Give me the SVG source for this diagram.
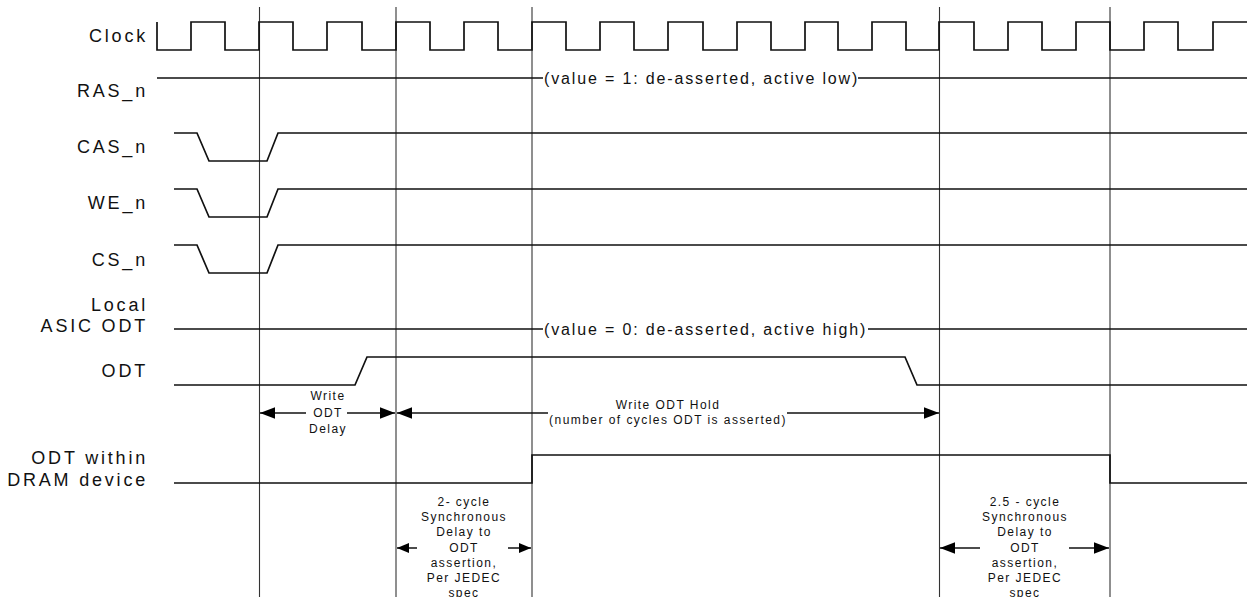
<svg xmlns="http://www.w3.org/2000/svg" width="1247" height="597" viewBox="0 0 1247 597">
<style>
.lbl{font-family:"Liberation Sans",Arial,sans-serif;font-size:18px;letter-spacing:2.8px;fill:#111;text-anchor:end}
.val{font-family:"Liberation Sans",Arial,sans-serif;font-size:16px;letter-spacing:1.85px;fill:#111}
.ann{font-family:"Liberation Sans",Arial,sans-serif;font-size:12px;letter-spacing:1.45px;fill:#111;text-anchor:middle}
.sig{fill:none;stroke:#111;stroke-width:1.7;stroke-linejoin:miter}
.grid{stroke:#333;stroke-width:1.1}
.dim{stroke:#111;stroke-width:1.5;fill:none}
.dimA{marker-end:url(#ah)}
.dimB{marker-end:url(#ahs)}
</style>
<defs>
<marker id="ah" markerUnits="userSpaceOnUse" markerWidth="16" markerHeight="12" refX="15" refY="5.75" orient="auto"><path d="M0,0 L15,5.75 L0,11.5 z" fill="#000"/></marker>
<marker id="ahs" markerUnits="userSpaceOnUse" markerWidth="13" markerHeight="11" refX="12" refY="5" orient="auto"><path d="M0,0 L12,5 L0,10 z" fill="#000"/></marker>
</defs>

<g id="gridlines">
<line class="grid" x1="259.5" y1="7" x2="259.5" y2="597"/>
<line class="grid" x1="396" y1="7" x2="396" y2="597"/>
<line class="grid" x1="532" y1="7" x2="532" y2="597"/>
<line class="grid" x1="939.5" y1="7" x2="939.5" y2="597"/>
<line class="grid" x1="1110" y1="7" x2="1110" y2="597"/>
</g>

<g id="clock">
<text class="lbl" x="148" y="42">Clock</text>
<path class="sig" d="M157,22 V50 H191 V22 H225 V50 H259 V22 H293 V50 H327 V22 H362 V50 H396 V22 H430 V50 H464 V22 H498 V50 H532 V22 H566 V50 H600 V22 H634 V50 H668 V22 H703 V50 H737 V22 H771 V50 H805 V22 H838 V50 H872 V22 H906 V50 H939 V22 H974 V50 H1008 V22 H1042 V50 H1076 V22 H1110 V50 H1144 V22 H1178 V50 H1213 V22 H1247"/>
</g>

<g id="ras_n">
<text class="lbl" x="148" y="97">RAS_n</text>
<path class="sig" d="M157,78 H543 M858,78 H1247"/>
<text class="val" x="544" y="83.5">(value = 1: de-asserted, active low)</text>
</g>

<g id="cas_n">
<text class="lbl" x="148" y="153">CAS_n</text>
<path class="sig" d="M174,133 H197 L209,161 H267 L278,133 H1247"/>
</g>

<g id="we_n">
<text class="lbl" x="148" y="209">WE_n</text>
<path class="sig" d="M174,189 H197 L209,217 H267 L278,189 H1247"/>
</g>

<g id="cs_n">
<text class="lbl" x="148" y="266">CS_n</text>
<path class="sig" d="M174,245 H197 L209,273 H267 L278,245 H1247"/>
</g>

<g id="local_asic_odt">
<text class="lbl" x="148" y="311">Local</text>
<text class="lbl" x="148" y="332">ASIC ODT</text>
<path class="sig" d="M174,329 H543 M868,329 H1247"/>
<text class="val" x="544" y="334.5">(value = 0: de-asserted, active high)</text>
</g>

<g id="odt">
<text class="lbl" x="148" y="377">ODT</text>
<path class="sig" d="M174,385 H355 L367,357 H905 L917,385 H1247"/>
</g>

<g id="odt_dram">
<text class="lbl" x="148" y="464">ODT within</text>
<text class="lbl" x="148" y="486">DRAM device</text>
<path class="sig" d="M174,483 H532 V455 H1110 V483 H1247"/>
</g>

<g id="connectors">
<line class="dim dimA" x1="306" y1="413" x2="260" y2="413"/>
<line class="dim dimA" x1="347" y1="413" x2="395" y2="413"/>
<line class="dim dimA" x1="548" y1="413" x2="397" y2="413"/>
<line class="dim dimA" x1="787" y1="413" x2="939" y2="413"/>
<line class="dim dimB" x1="417" y1="548" x2="397" y2="548"/>
<line class="dim dimB" x1="508" y1="548" x2="531" y2="548"/>
<line class="dim dimA" x1="980" y1="548" x2="940" y2="548"/>
<line class="dim dimA" x1="1069" y1="548" x2="1109" y2="548"/>
</g>

<g id="write_odt_delay">
<text class="ann" x="328" y="400">Write</text>
<text class="ann" x="328" y="417">ODT</text>
<text class="ann" x="328" y="433">Delay</text>
</g>

<g id="write_odt_hold">
<text class="ann" x="668" y="409">Write ODT Hold</text>
<text class="ann" x="668" y="424">(number of cycles ODT is asserted)</text>
</g>

<g id="two_cycle">
<text class="ann" x="464" y="506">2- cycle</text>
<text class="ann" x="464" y="521">Synchronous</text>
<text class="ann" x="464" y="536">Delay to</text>
<text class="ann" x="464" y="551.5">ODT</text>
<text class="ann" x="464" y="566.5">assertion,</text>
<text class="ann" x="464" y="581.5">Per JEDEC</text>
<text class="ann" x="464" y="596.5">spec</text>
</g>

<g id="two_half_cycle">
<text class="ann" x="1025" y="506">2.5 - cycle</text>
<text class="ann" x="1025" y="521">Synchronous</text>
<text class="ann" x="1025" y="536">Delay to</text>
<text class="ann" x="1025" y="551.5">ODT</text>
<text class="ann" x="1025" y="566.5">assertion,</text>
<text class="ann" x="1025" y="581.5">Per JEDEC</text>
<text class="ann" x="1025" y="596.5">spec</text>
</g>
</svg>
